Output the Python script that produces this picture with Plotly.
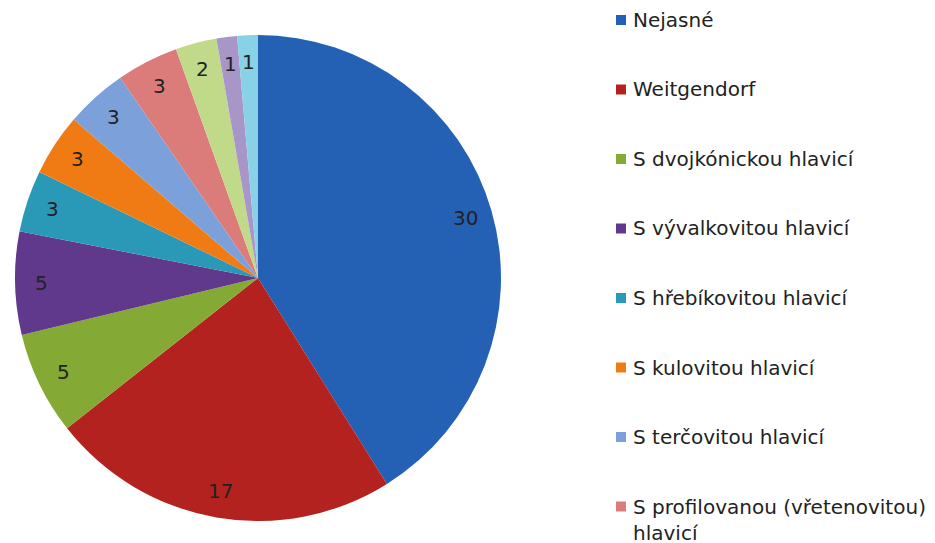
import math
import plotly.graph_objects as go

labels = ['Nejasné', 'Weitgendorf', 'S dvojkónickou hlavicí', 'S vývalkovitou hlavicí',
          'S hřebíkovitou hlavicí', 'S kulovitou hlavicí', 'S terčovitou hlavicí',
          'S profilovanou (vřetenovitou)<br>hlavicí', 'S knoflíkovitou hlavicí',
          'S kalichovitou hlavicí', 'Ostatní']
values = [30, 17, 5, 5, 3, 3, 3, 3, 2, 1, 1]
colors = ['#2461B5', '#B3221E', '#84A934', '#60398C', '#2A99B7', '#F07B14',
          '#7CA0DA', '#DB7C7A', '#C0DA8A', '#A996C9', '#88D1E7']
legend_shown = 8  # the original legend runs off the bottom after eight entries

W, H = 935, 543
OFF = 8  # page body margin shifts the whole figure
FONT = 'DejaVu Sans'
TXT = '#222222'

# pie geometry in page pixels
CX, CY, R = 258 - OFF, 278 - OFF, 243

fig = go.Figure()
fig.add_trace(go.Pie(
    labels=labels,
    values=values,
    sort=False,
    direction='clockwise',
    rotation=0,
    marker=dict(colors=colors, line=dict(width=0)),
    textinfo='none',
    domain=dict(x=[(CX - R) / W, (CX + R) / W], y=[1 - (CY + R) / H, 1 - (CY - R) / H]),
    showlegend=False,
))

annotations = []
shapes = []

# value labels near the outer edge of each slice (Excel "inside end" look)
total = sum(values)
cum = 0
for v in values:
    mid = (cum + v / 2) / total * 2 * math.pi
    cum += v
    rl = 0.89 * R
    annotations.append(dict(text=str(v), xref='paper', yref='paper',
                            x=(CX + rl * math.sin(mid)) / W,
                            y=1 - (CY - rl * math.cos(mid)) / H,
                            xanchor='center', yanchor='middle', showarrow=False,
                            font=dict(family=FONT, size=20, color=TXT)))

# legend drawn by hand
for i, (lab, col) in enumerate(zip(labels[:legend_shown], colors)):
    cy = 20 - OFF + i * 69.5
    shapes.append(dict(type='rect', xref='paper', yref='paper',
                       x0=(616 - OFF) / W, x1=(626 - OFF) / W,
                       y0=1 - (cy + 5) / H, y1=1 - (cy - 5) / H,
                       fillcolor=col, line=dict(width=0)))
    annotations.append(dict(text=lab, xref='paper', yref='paper',
                            x=(631 - OFF) / W, y=1 - (cy - 14) / H,
                            xanchor='left', yanchor='top', align='left',
                            showarrow=False,
                            font=dict(family=FONT, size=20, color=TXT)))

fig.update_layout(
    width=W, height=H,
    margin=dict(l=0, r=0, t=0, b=0),
    paper_bgcolor='white',
    plot_bgcolor='white',
    shapes=shapes,
    annotations=annotations,
)

fig.write_html('out.html')
